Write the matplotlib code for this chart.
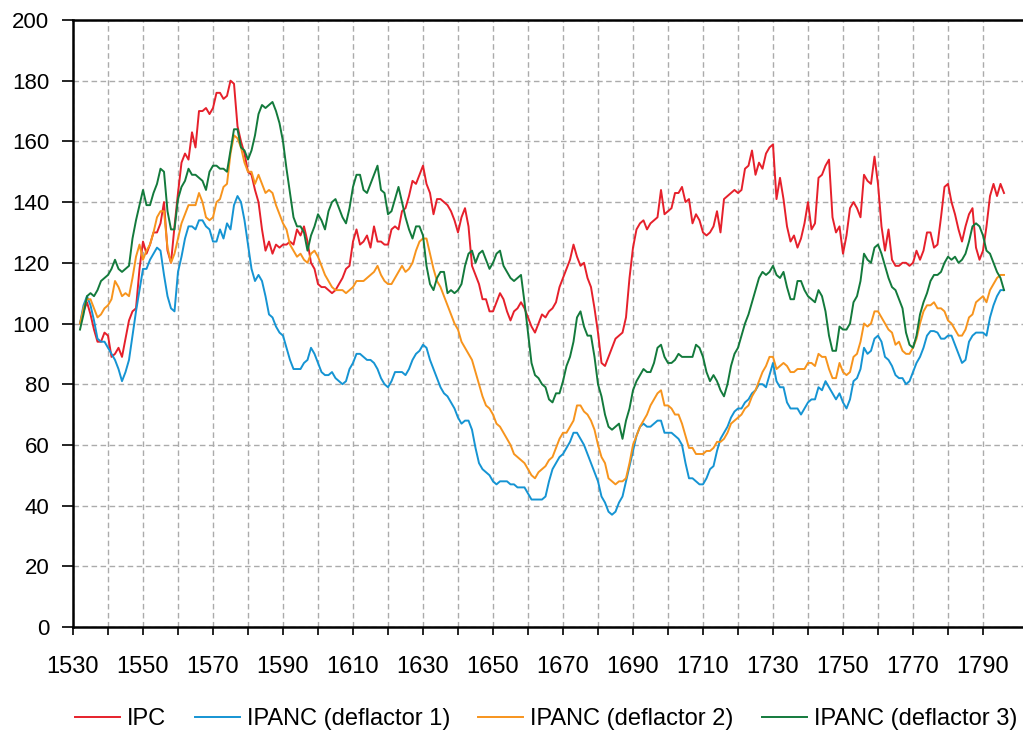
import numpy as np
import matplotlib
matplotlib.use("Agg")
import matplotlib.pyplot as plt

plt.rcParams['font.family'] = ['Liberation Sans', 'DejaVu Sans']

# ===== data (annual, 1532-1796) =====
years = np.arange(1532, 1797)

ipc = [
    100, 104, 107, 103, 98, 94, 94, 97, 96, 89,
    90, 92, 89, 95, 101, 104, 105, 118, 127, 123,
    126, 130, 130, 133, 140, 124, 120, 132, 143, 153,
    156, 154, 163, 158, 170, 170, 171, 169, 171, 176,
    176, 174, 175, 180, 179, 165, 160, 156, 150, 149,
    144, 140, 131, 124, 127, 123, 126, 125, 126, 126,
    127, 126, 131, 129, 132, 127, 120, 118, 113, 112,
    112, 111, 110, 111, 113, 115, 118, 119, 127, 131,
    126, 127, 129, 125, 132, 127, 127, 126, 126, 131,
    132, 131, 137, 138, 142, 147, 146, 149, 152, 146,
    143, 136, 141, 141, 140, 139, 137, 134, 130, 135,
    138, 132, 119, 116, 113, 108, 108, 104, 104, 107,
    110, 108, 104, 101, 104, 105, 107, 105, 102, 99,
    97, 100, 103, 102, 104, 105, 107, 112, 115, 118,
    121, 126, 122, 119, 120, 115, 112, 105, 97, 87,
    86, 89, 92, 95, 96, 97, 102, 115, 125, 131,
    133, 134, 131, 133, 134, 135, 144, 136, 137, 138,
    143, 143, 145, 140, 141, 133, 136, 134, 130, 129,
    130, 132, 137, 130, 141, 142, 143, 144, 143, 144,
    151, 152, 157, 149, 153, 151, 156, 158, 159, 141,
    148, 141, 132, 127, 129, 125, 128, 133, 140, 131,
    133, 148, 149, 152, 154, 135, 130, 132, 123, 129,
    138, 140, 138, 135, 149, 147, 146, 155, 146, 132,
    124, 131, 121, 119, 119, 120, 120, 119, 120, 124,
    121, 124, 130, 130, 125, 126, 135, 145, 146, 140,
    136, 131, 127, 132, 136, 138, 125, 121, 124, 132,
    142, 146, 142, 146, 143,
]

ipanc_1 = [
    100, 106, 109, 106, 101, 95, 94, 94, 92, 90,
    88, 85, 81, 84, 88, 96, 104, 111, 118, 118,
    121, 123, 125, 124, 116, 109, 105, 104, 117, 122,
    128, 132, 132, 131, 134, 134, 132, 131, 127, 127,
    131, 128, 133, 131, 139, 142, 140, 134, 126, 118,
    114, 116, 114, 109, 103, 102, 99, 97, 96, 92,
    88, 85, 85, 85, 87, 88, 92, 90, 87, 84,
    83, 83, 84, 82, 81, 80, 81, 85, 87, 90,
    90, 89, 88, 88, 87, 85, 82, 80, 79, 81,
    84, 84, 84, 83, 85, 88, 90, 91, 93, 92,
    88, 85, 82, 79, 77, 76, 74, 72, 69, 67,
    68, 68, 65, 59, 54, 52, 51, 50, 48, 47,
    48, 48, 48, 47, 47, 46, 46, 46, 44, 42,
    42, 42, 42, 43, 48, 52, 54, 56, 57, 59,
    61, 64, 64, 62, 60, 57, 54, 51, 48, 43,
    41, 38, 37, 38, 41, 43, 48, 53, 58, 63,
    66, 67, 66, 66, 67, 68, 68, 64, 64, 64,
    63, 62, 60, 54, 49, 49, 48, 47, 47, 49,
    52, 53, 58, 62, 64, 66, 69, 71, 72, 72,
    74, 75, 77, 78, 80, 80, 79, 83, 87, 81,
    79, 79, 74, 72, 72, 72, 70, 72, 74, 75,
    75, 79, 78, 81, 79, 77, 75, 77, 74, 72,
    75, 81, 82, 85, 92, 90, 91, 95, 96, 94,
    89, 88, 86, 83, 82, 82, 80, 81, 84, 87,
    89, 92, 96, 97.5, 97.5, 97, 95, 95, 96, 96,
    93, 90, 87, 88, 94, 96, 97, 97, 97, 96,
    102, 106, 109, 111, 111,
]

ipanc_2 = [
    100, 105, 108, 108, 105, 102, 103, 105, 106, 108,
    114, 112, 109, 110, 109, 115, 122, 126, 121, 124,
    126, 130, 135, 137, 137, 125, 120, 123, 128, 133,
    136, 139, 139, 139, 143, 140, 135, 134, 135, 140,
    141, 145, 146, 156, 162, 161, 158, 153, 150, 150,
    146, 149, 146, 143, 144, 143, 139, 136, 133, 131,
    126, 124, 122, 123, 121, 120, 123, 124, 122, 119,
    116, 114, 112, 111, 111, 111, 110, 111, 112, 114,
    114, 114, 115, 116, 117, 119, 116, 114, 113, 113,
    115, 117, 119, 117, 118, 120, 124, 127, 128, 128,
    123, 118, 114, 112, 109, 106, 103, 100, 98, 94,
    92, 90, 88, 84, 80, 76, 73, 72, 70, 67,
    66, 64, 62, 60, 57, 56, 55, 54, 52, 50,
    49, 51, 52, 53, 55, 56, 59, 62, 64, 64,
    66, 68, 73, 73, 71, 70, 68, 65, 60, 56,
    54, 49, 48, 47, 48, 48, 49, 54, 60, 63,
    66, 68, 70, 73, 75, 77, 78, 73, 73, 72,
    70, 70, 67, 63, 59, 59, 57, 57, 57, 58,
    58, 59, 61, 61, 62, 64, 67, 68, 69, 70,
    72, 73, 76, 78, 81, 84, 86, 89, 89, 85,
    86, 87, 86, 84, 84, 85, 85, 85, 87, 87,
    86, 90, 89, 89, 85, 82, 82, 87, 84, 83,
    84, 89, 90, 94, 100, 99, 100, 104, 104, 102,
    100, 98, 97, 93, 94, 91, 90, 90, 92, 95,
    100, 104, 106, 106, 107, 105, 105, 104, 101, 100,
    98, 96, 96, 98, 102, 103, 107, 108, 109, 107,
    111, 113, 115, 116, 116,
]

ipanc_3 = [
    98, 103, 109, 110, 109, 111, 114, 115, 116, 118,
    121, 118, 117, 118, 119, 128, 134, 139, 144, 139,
    139, 143, 146, 151, 150, 137, 131, 131, 141, 145,
    147, 151, 149, 149, 148, 147, 144, 150, 152, 152,
    151, 151, 150, 157, 164, 164, 158, 157, 154, 157,
    162, 169, 172, 171, 172, 173, 170, 166, 160, 151,
    143, 135, 132, 132, 130, 124, 129, 132, 136, 134,
    131, 137, 140, 141, 138, 135, 133, 138, 145, 149,
    149, 144, 143, 146, 149, 152, 144, 143, 136, 137,
    141, 145, 140, 135, 131, 128, 132, 132, 129, 119,
    113, 111, 115, 117, 117, 110, 111, 110, 111, 113,
    119, 123, 124, 120, 123, 124, 121, 118, 120, 123,
    124, 119, 117, 115, 114, 115, 116, 107, 97, 87,
    83, 82, 80, 79, 75, 74, 77, 77, 81, 86,
    89, 94, 102, 104, 99, 96, 96, 89, 80, 76,
    70, 66, 65, 66, 67, 62, 68, 72, 78, 81,
    83, 85, 84, 84, 87, 92, 93, 89, 87, 87,
    88, 90, 89, 89, 89, 89, 93, 92, 89, 84,
    81, 83, 81, 78, 76, 80, 86, 90, 92, 96,
    100, 103, 107, 111, 115, 117, 116, 117, 119, 116,
    115, 117, 112, 108, 108, 114, 114, 111, 109, 108,
    107, 111, 109, 104, 96, 91, 91, 99, 98, 98,
    100, 107, 109, 114, 123, 121, 120, 125, 126, 123,
    119, 115, 112, 111, 108, 105, 97, 93, 92, 96,
    103, 107, 110, 114, 116, 116, 117, 120, 122, 121,
    122, 120, 121, 123, 127, 132, 133, 132, 129, 124,
    123, 120, 117, 115, 111,
]

series_labels = ["IPC", "IPANC (deflactor 1)", "IPANC (deflactor 2)", "IPANC (deflactor 3)"]
series_colors = ["#E6202B", "#1594D3", "#F7941D", "#137A3C"]

x_major = np.arange(1530, 1800, 20)
x_minor = np.arange(1540, 1800, 20)
y_ticks = np.arange(0, 201, 20)

# ===== figure =====
fig = plt.figure(figsize=(10.23, 7.33), dpi=100)
ax = fig.add_axes([73 / 1023, 106 / 733, 950 / 1023, 607 / 733])

for values, label, color in zip([ipc, ipanc_1, ipanc_2, ipanc_3], series_labels, series_colors):
    ax.plot(years, values, color=color, linewidth=1.4, label=label)

ax.set_xlim(1530, 1530 + 950 / 3.5)
ax.set_ylim(0, 200)

ax.set_xticks(x_major)
ax.set_xticks(x_minor, minor=True)
ax.set_xticklabels([str(x) for x in x_major], fontsize=17)
ax.set_yticks(y_ticks)
ax.set_yticklabels([str(y) for y in y_ticks], fontsize=16)

ax.tick_params(axis="x", which="both", direction="out", length=6, width=1.2, pad=15)
ax.tick_params(axis="y", direction="out", length=8, width=1.2, pad=9)

# dashed grid
grid_style = dict(color="#ababab", linestyle=(0, (4, 2.5)), linewidth=1.0)
ax.grid(True, axis="x", which="both", **grid_style)
ax.grid(True, axis="y", which="major", **grid_style)
ax.set_axisbelow(True)

for side in ["left", "bottom", "top"]:
    ax.spines[side].set_linewidth(1.8)
    ax.spines[side].set_color("black")
ax.spines["right"].set_visible(False)

# ===== legend =====
handles, labels = ax.get_legend_handles_labels()
fig.legend(handles, labels,
           loc="center left",
           bbox_to_anchor=(54 / 1023, 1 - 719 / 733),
           ncol=4,
           frameon=False,
           fontsize=17,
           handlelength=1.9,
           handletextpad=0.3,
           columnspacing=1.2)

fig.savefig("out.png", dpi=100)
plt.close(fig)
